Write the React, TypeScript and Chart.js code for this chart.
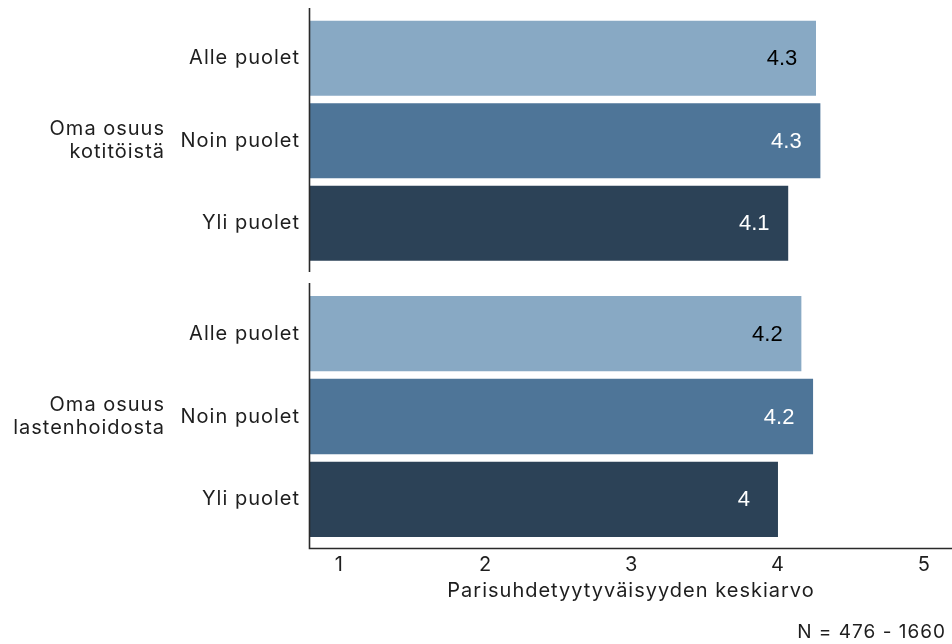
import React, { useEffect, useRef } from "react";
import { Chart, registerables } from "chart.js";

Chart.register(...registerables);

// ---- data ----
const categories = ["Alle puolet", "Noin puolet", "Yli puolet"];
const houseworkGroup = ["Oma osuus", "kotitöistä"];
const childcareGroup = ["Oma osuus", "lastenhoidosta"];
const houseworkValues = [4.26, 4.29, 4.07];
const childcareValues = [4.16, 4.24, 4.0];
const xTicks = [1, 2, 3, 4, 5];
const xTitle = "Parisuhdetyytyväisyyden keskiarvo";
const footnote = "N = 476 - 1660";

// ---- styles ----
const barColors = ["#88A9C4", "#4E7598", "#2C4257"];
const valueLabelColors = ["#000000", "#FFFFFF", "#FFFFFF"];
const TEXT_FONT = "Inter, 'Open Sans', sans-serif";
const VALUE_FONT = "'Liberation Sans', Arial, sans-serif";
const TEXT_COLOR = "#1E1E1E";
const AXIS_COLOR = "#2A2A2A";
const X_MIN = 0.8;
const X_MAX = 5.19;
const LETTER_SPACING = "1px";

const fmt = (v: number) => String(Math.round(v * 10) / 10);

const spacingPlugin = {
  id: "spacing",
  beforeDraw(chart: any) {
    (chart.ctx as any).letterSpacing = LETTER_SPACING;
  },
};

function makePanelPlugin(values: number[], group: string[], lineTop: number, lineBottom: number, drawBottom: boolean) {
  return {
    id: "panelDecor",
    afterDatasetsDraw(chart: any) {
      const ctx = chart.ctx;
      const meta = chart.getDatasetMeta(0);
      const area = chart.chartArea;
      ctx.save();
      // value labels
      (ctx as any).letterSpacing = "0px";
      ctx.font = `22px ${VALUE_FONT}`;
      ctx.textAlign = "center";
      ctx.textBaseline = "middle";
      meta.data.forEach((bar: any, i: number) => {
        ctx.fillStyle = valueLabelColors[i];
        ctx.fillText(fmt(values[i]), bar.x - 34, bar.y + 1);
      });
      // axis lines
      ctx.strokeStyle = AXIS_COLOR;
      ctx.lineWidth = 1.6;
      ctx.beginPath();
      ctx.moveTo(area.left - 0.5, lineTop);
      ctx.lineTo(area.left - 0.5, lineBottom);
      if (drawBottom) {
        ctx.lineTo(chart.width, lineBottom);
      }
      ctx.stroke();
      // group label
      (ctx as any).letterSpacing = LETTER_SPACING;
      const yScale = chart.scales.y;
      const cy = yScale.getPixelForValue(1);
      ctx.font = `20px ${TEXT_FONT}`;
      ctx.fillStyle = TEXT_COLOR;
      ctx.textAlign = "right";
      ctx.fillText(group[0], 165, cy - 11.5);
      ctx.fillText(group[1], 165, cy + 11.5);
      // footnote
      if (drawBottom) {
        ctx.font = `19px ${TEXT_FONT}`;
        ctx.fillText(footnote, 946, chart.height - 12);
      }
      ctx.restore();
    },
  };
}

function buildChart(canvas: HTMLCanvasElement, values: number[], group: string[], bottom: boolean) {
  const plugin = bottom
    ? makePanelPlugin(values, group, 5, 270.5, true)
    : makePanelPlugin(values, group, 8, 272, false);
  return new Chart(canvas, {
    type: "bar",
    data: {
      labels: categories,
      datasets: [
        {
          data: values,
          backgroundColor: barColors,
          borderWidth: 0,
          barPercentage: 75 / 82.5,
          categoryPercentage: 1,
        },
      ],
    },
    options: {
      indexAxis: "y",
      responsive: false,
      animation: false,
      devicePixelRatio: 1,
      layout: {
        padding: bottom
          ? { top: 14.25, bottom: 24, left: 0, right: 0 }
          : { top: 17, bottom: 13.5, left: 0, right: 0 },
      },
      plugins: {
        legend: { display: false },
        tooltip: { enabled: false },
        title: { display: false },
      },
      scales: {
        x: {
          type: "linear",
          display: bottom,
          min: X_MIN,
          max: X_MAX,
          afterBuildTicks: (s: any) => {
            s.ticks = xTicks.map((v) => ({ value: v }));
          },
          afterFit: (s: any) => {
            s.paddingLeft = 0;
            s.paddingRight = 0;
            if (bottom) s.height = 79.25;
          },
          grid: { display: false, drawTicks: false },
          border: { display: false },
          ticks: {
            color: TEXT_COLOR,
            font: { family: TEXT_FONT, size: 20 },
            padding: 12,
            maxRotation: 0,
            autoSkip: false,
          },
          title: {
            display: true,
            text: xTitle,
            color: TEXT_COLOR,
            font: { family: TEXT_FONT, size: 20 },
            padding: { top: 2, bottom: 17 },
          },
        },
        y: {
          type: "category",
          offset: true,
          grid: { display: false, drawTicks: false },
          border: { display: false },
          ticks: {
            color: TEXT_COLOR,
            font: { family: TEXT_FONT, size: 20 },
            padding: 10,
          },
          afterFit: (s: any) => {
            s.width = 310;
            s.paddingTop = 0;
            s.paddingBottom = 0;
          },
        },
      },
    } as any,
    plugins: [spacingPlugin, plugin],
  });
}

export default function App() {
  const topRef = useRef<HTMLCanvasElement>(null);
  const bottomRef = useRef<HTMLCanvasElement>(null);

  useEffect(() => {
    const c1 = buildChart(topRef.current!, houseworkValues, houseworkGroup, false);
    const c2 = buildChart(bottomRef.current!, childcareValues, childcareGroup, true);
    return () => {
      c1.destroy();
      c2.destroy();
    };
  }, []);

  return (
    <div style={{ position: "fixed", left: 0, top: 0, width: 952, height: 644, background: "#fff" }}>
      <canvas ref={topRef} width={952} height={278} style={{ position: "absolute", left: 0, top: 0 }} />
      <canvas ref={bottomRef} width={952} height={366} style={{ position: "absolute", left: 0, top: 278 }} />
    </div>
  );
}
